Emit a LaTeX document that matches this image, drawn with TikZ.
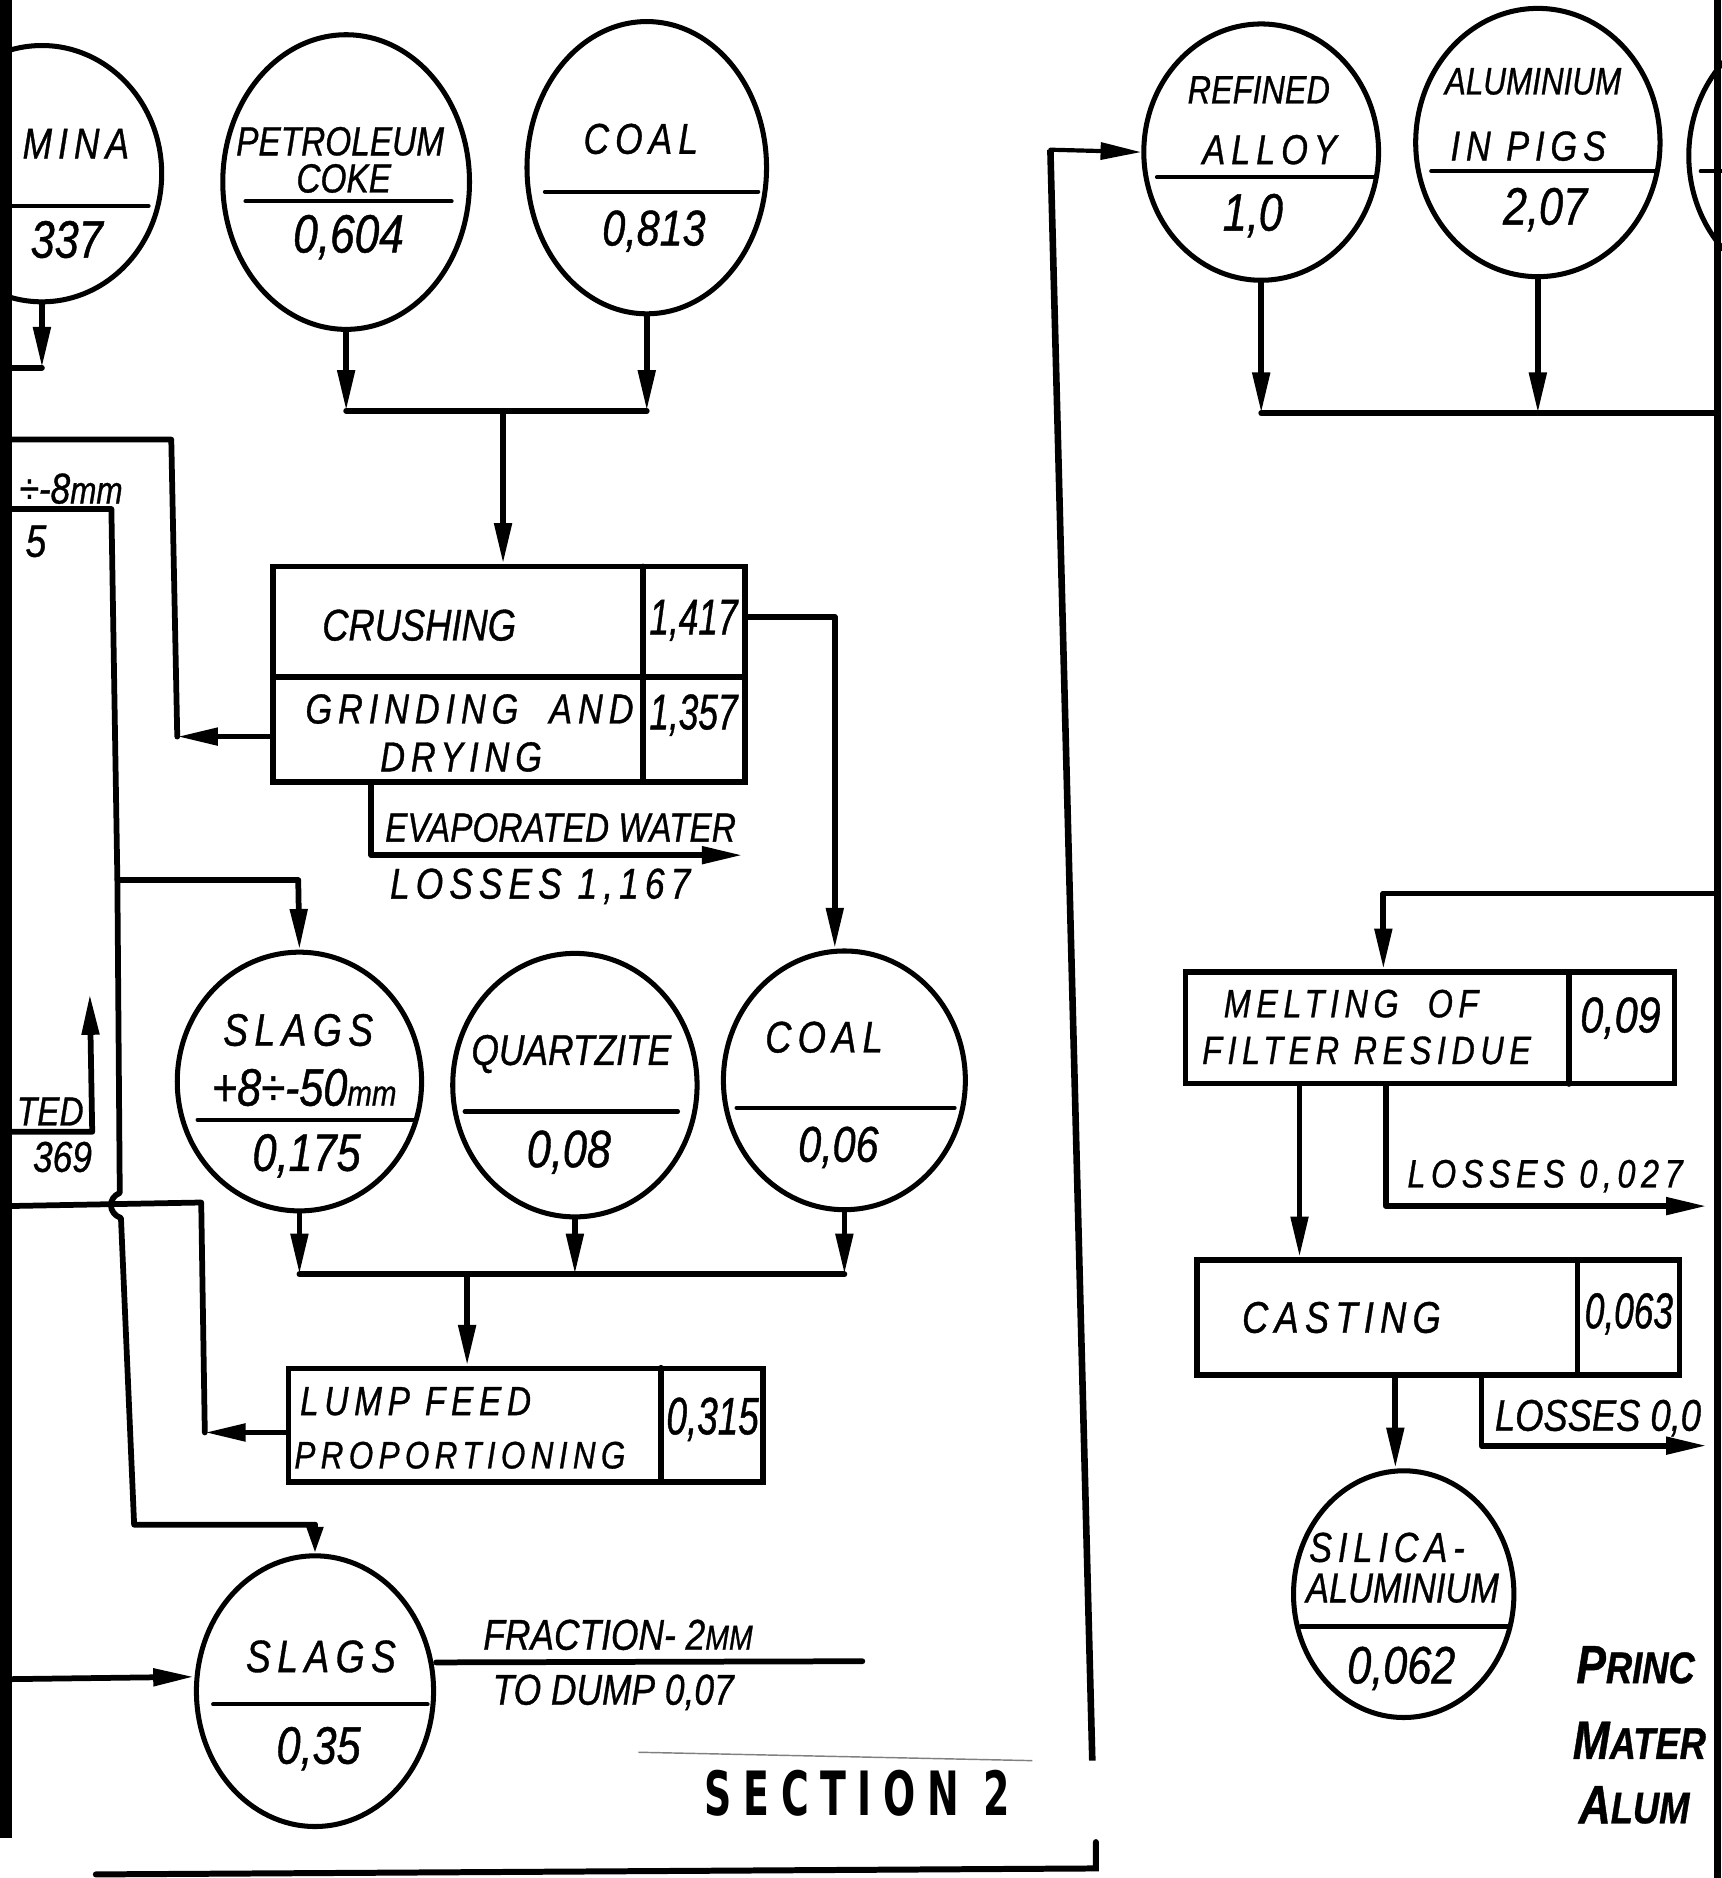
\documentclass[tikz,border=0pt]{standalone}
\usepackage{fontspec}
\setmainfont{Liberation Sans}[FakeStretch=0.82,FakeBold=0.8]
\newfontfamily\widefont{Liberation Sans}[FakeStretch=0.82,FakeBold=0.8,LetterSpace=14]
\newfontfamily\narrowfont{Liberation Sans}[FakeStretch=0.7,FakeBold=0.8]
\newfontfamily\secfont{DejaVu Sans}[FakeStretch=0.62,LetterSpace=19]
\usetikzlibrary{shapes.geometric,arrows.meta}
\newcommand\tfs[1]{\fontsize{#1}{#1}\selectfont\itshape}
\newcommand\tws[1]{\fontsize{#1}{#1}\selectfont\widefont\itshape}
\newcommand\tns[1]{\fontsize{#1}{#1}\selectfont\narrowfont\itshape}
\begin{document}
\begin{tikzpicture}[x=1pt,y=-1pt,
  ln/.style={line width=4.8pt,line cap=round,line join=round},
  arr/.style={ln,-{Triangle[length=34pt,width=14pt]}},
  sarr/.style={ln,-{Triangle[length=22pt,width=13pt]}},
  circ/.style={draw,ellipse,line width=4.2pt,inner sep=0pt},
  box/.style={draw,rectangle,line width=4.5pt,inner sep=0pt},
  dv/.style={line width=3.5pt,line cap=round},
  t/.style={inner sep=0pt}]
\useasboundingbox[fill=white] (0,0) rectangle (1437,1568);

% ---------- top-left inputs ----------
\node[circ,minimum width=200pt,minimum height=214pt] (alu0) at (35,145) {};
\draw[dv] (10,172) -- (124,172);
\node[t,anchor=east,font=\tws{36}] (alu0a) at (108,120) {MINA};
\node[t,anchor=east,font=\tfs{44}] (alu0b) at (86,200) {337};

\node[circ,minimum width=206pt,minimum height=246pt] (pc) at (289,152) {};
\node[t,font=\tfs{34}] (pca) at (284,118) {PETROLEUM};
\node[t,font=\tfs{34}] (pcb) at (287,149) {COKE};
\draw[dv] (205,168) -- (377,168);
\node[t,font=\tfs{45}] (pcc) at (291,198) {0,604};

\node[circ,minimum width=200pt,minimum height=244pt] (coala) at (540,140) {};
\node[t,font=\tws{36}] (coalat) at (535,116) {COAL};
\draw[dv] (455,160) -- (633,160);
\node[t,font=\tfs{42}] (coalav) at (546,193) {0,813};

\coordinate (j1) at (420,343);
\draw[arr] (alu0.south) -- (alu0.south |- 0,307);
\coordinate (a0) at (6,307);
\draw[ln] (alu0.south |- 0,307) -- (a0);
\draw[arr] (pc.south) -- (pc.south |- j1);
\draw[arr] (coala.south) -- (coala.south |- j1);
\draw[ln] (pc.south |- j1) -- (coala.south |- j1);

% ---------- crushing ----------
\node[box,minimum width=394pt,minimum height=180pt] (crush) at (425,563) {};
\draw[arr] (j1) -- (j1 |- crush.north);
\draw[ln] (228,565) -- (622,565);
\draw[ln] (537,473) -- (537,653);
\node[t,font=\tfs{37}] (cr1) at (350,522) {CRUSHING};
\node[t,font=\tns{42}] (cr2) at (579,518) {1,417};
\node[t,font=\tws{35}] (cr3) at (392,592) {GRINDING\ \ AND};
\node[t,font=\tws{35}] (cr4) at (385,632) {DRYING};
\node[t,font=\tns{42}] (cr5) at (579,597) {1,357};

\node[circ,minimum width=202pt,minimum height=216pt] (coalb) at (705,902) {};
\draw[arr] ([yshift=48pt]crush.east) -| ([xshift=-8pt]coalb.north);

\coordinate (g1) at (148,615);
\coordinate (g0) at (6,367);
\draw[arr] ([yshift=-52pt]crush.west) -- (g1);
\draw[ln] (g1) -- (143,367) -- (g0);

\coordinate (ew) at (620,714);
\draw[arr] ([xshift=-115pt]crush.south) |- (ew);
\node[t,font=\tfs{34}] (ew1) at (468,691) {EVAPORATED WATER};
\node[t,font=\tws{36}] (ew2) at (451,740) {LOSSES 1,167};

% ---------- left fragments ----------
\node[t,anchor=west,font=\tfs{36}] (fr8) at (16,408) {÷-8{\tfs{32}mm}};
\node[t,font=\tfs{38}] (fr5) at (30,452) {5};
\node[t,anchor=east,font=\tfs{34}] (frt) at (70,928) {TED};
\node[t,anchor=east,font=\tfs{36}] (fr3) at (77,966) {369};
\coordinate (te0) at (6,945);
\coordinate (te1) at (75,830);
\draw[arr] (te0) -- (77,945) -- (te1);

% ---------- middle inputs ----------
\node[circ,minimum width=204pt,minimum height=216pt] (slg1) at (250,903) {};
\node[t,font=\tws{38}] (slg1a) at (249,860) {SLAGS};
\node[t,font=\tfs{44}] (slg1b) at (254,908) {+8÷-50{\tfs{30}mm}};
\draw[dv] (165,935) -- (345,935);
\node[t,font=\tfs{44}] (slg1c) at (256,965) {0,175};

\node[circ,minimum width=204pt,minimum height=220pt] (qz) at (480,906) {};
\node[t,font=\tfs{36}] (qza) at (477,880) {QUARTZITE};
\draw[dv] (388,928) -- (566,928);
\node[t,font=\tfs{44}] (qzb) at (475,962) {0,08};

\node[t,font=\tws{37}] (coalbt) at (688,866) {COAL};
\draw[dv] (615,925) -- (797,925);
\node[t,font=\tfs{42}] (coalbv) at (700,958) {0,06};

% slags feed line from the left
\coordinate (s0) at (6,425);
\coordinate (br) at (98,735);
\draw[ln] (s0) -- (93,425) -- (br) -- (100,996)
   .. controls (90,1000) and (90,1013) .. (101,1017) -- (112,1273) -- (263,1273);
\draw[ln] (br) -- (249,735);
\draw[arr] (249,735) -- (slg1.north);

% lump feed
\node[box,minimum width=396pt,minimum height=95pt] (lump) at (439,1190) {};
\draw[ln] (552,1142) -- (552,1237);
\node[t,font=\tws{34}] (lu1) at (347,1170) {LUMP FEED};
\node[t,font=\tws{32}] (lu2) at (384,1215) {PROPORTIONING};
\node[t,font=\tns{44}] (lu3) at (595,1185) {0,315};

\coordinate (j2) at (390,1064);
\draw[arr] (slg1.south) -- (slg1.south |- j2);
\draw[arr] (qz.south) -- (qz.south |- j2);
\draw[arr] (coalb.south) -- (coalb.south |- j2);
\draw[ln] (slg1.south |- j2) -- (coalb.south |- j2);
\draw[arr] (j2) -- (j2 |- lump.north);

\coordinate (lf0) at (6,1007);
\coordinate (lf1) at (171,1196);
\draw[arr] ([yshift=-6pt]lump.west) -- (lf1);
\draw[ln] (lf1) -- (168,1004) -- (lf0);

% ---------- slags bottom ----------
\node[circ,minimum width=198pt,minimum height=226pt] (slg2) at (263,1412) {};
\draw[sarr] (slg2.north |- 0,1273) -- (slg2.north);
\node[t,font=\tws{38}] (slg2a) at (268,1383) {SLAGS};
\draw[dv] (178,1423) -- (357,1423);
\node[t,font=\tfs{44}] (slg2b) at (266,1460) {0,35};
\coordinate (l3) at (6,1402);
\draw[arr] (l3) -- ([yshift=12pt]slg2.west);
\coordinate (fr) at (720,1387);
\draw[ln] ([yshift=24pt]slg2.east) -- (fr);
\node[t,font=\tfs{36}] (fra) at (516,1365) {FRACTION- 2{\tfs{29}MM}};
\node[t,font=\tfs{36}] (frb) at (512,1413) {TO DUMP 0,07};

% ---------- section label and loop ----------
\draw[line width=1.2pt,gray] (533,1463) -- (862,1470);
\node[t,font=\fontsize{51}{51}\selectfont\secfont\bfseries] (sec) at (716,1497) {SECTION 2};

\node[circ,minimum width=196pt,minimum height=214pt] (ref) at (1053,127) {};
\coordinate (v0) at (912,1470);
\coordinate (b0) at (80,1565);
\coordinate (b2) at (915,1538);
\draw[line width=5pt,line cap=round] (b0) -- (915,1560) -- (b2);
\draw[line width=5.5pt] (v0) -- (877,125);
\draw[arr,line width=3.5pt] (877,125) -- (ref.west);

% ---------- right side ----------
\node[t,font=\tfs{33}] (ref1) at (1051,75) {REFINED};
\node[t,font=\tws{35}] (ref2) at (1060,125) {ALLOY};
\draw[dv] (966,148) -- (1147,148);
\node[t,font=\tfs{44}] (ref3) at (1046,180) {1,0};

\node[circ,minimum width=204pt,minimum height=224pt] (alp) at (1284,119) {};
\node[t,font=\tfs{32}] (alp1) at (1280,68) {ALUMINIUM};
\node[t,font=\tws{35}] (alp2) at (1276,122) {IN PIGS};
\draw[dv] (1195,143) -- (1383,143);
\node[t,font=\tfs{44}] (alp3) at (1290,175) {2,07};

\node[circ,minimum width=204pt,minimum height=224pt] (alx) at (1512,130) {};
\draw[dv] (1420,143) -- (1437,143);

\coordinate (j3) at (1434,345);
\draw[arr] (ref.south) -- (ref.south |- j3);
\draw[arr] (alp.south) -- (alp.south |- j3);
\draw[ln] (ref.south |- j3) -- (j3);

\node[box,minimum width=408pt,minimum height=93pt] (melt) at (1194,858) {};
\draw[ln] (1310,812) -- (1310,905);
\node[t,font=\tws{33}] (me1) at (1128,838) {MELTING\ \ OF};
\node[t,font=\tws{33}] (me2) at (1141,877) {FILTER RESIDUE};
\node[t,font=\tfs{42}] (me3) at (1353,850) {0,09};
\coordinate (m0) at (1434,746);
\draw[arr] (m0) -| ([xshift=-39pt]melt.north);

\node[box,minimum width=403pt,minimum height=96pt] (cast) at (1201,1100) {};
\draw[ln] (1317,1052) -- (1317,1148);
\node[t,font=\tws{37}] (ca1) at (1120,1100) {CASTING};
\node[t,font=\tns{42}] (ca2) at (1360,1097) {0,063};
\draw[arr] ([xshift=-109pt]melt.south) -- ([xshift=-109pt]melt.south |- cast.north);

\coordinate (lo1) at (1425,1007);
\draw[arr] ([xshift=-37pt]melt.south) |- (lo1);
\node[t,font=\tws{33}] (lo1t) at (1290,982) {LOSSES 0,027};

\node[circ,minimum width=184pt,minimum height=206pt] (sil) at (1172,1331) {};
\draw[arr] ([xshift=-36pt]cast.south) -- ([xshift=-36pt]cast.south |- sil.north);
\coordinate (lo2) at (1425,1207);
\draw[arr] ([xshift=36pt]cast.south) |- (lo2);
\node[t,anchor=west,font=\tfs{37}] (lo2t) at (1248,1184) {LOSSES 0,0};

\node[t,font=\tws{35}] (si1) at (1158,1292) {SILICA-};
\node[t,font=\tfs{35}] (si2) at (1171,1326) {ALUMINIUM};
\draw[dv] (1086,1358) -- (1260,1358);
\node[t,font=\tfs{44}] (si3) at (1170,1393) {0,062};

\node[t,anchor=west,font=\tfs{45}\bfseries] (ti1) at (1316,1390) {P{\tfs{37}\bfseries RINC}};
\node[t,anchor=west,font=\tfs{45}\bfseries] (ti2) at (1313,1453) {M{\tfs{37}\bfseries ATER}};
\node[t,anchor=west,font=\tfs{45}\bfseries] (ti3) at (1318,1507) {A{\tfs{37}\bfseries LUM}};

% ---------- scan edges ----------
\fill (0,0) rectangle (10,1535);
\fill (1431,0) rectangle (1437,1568);
\end{tikzpicture}
\end{document}
